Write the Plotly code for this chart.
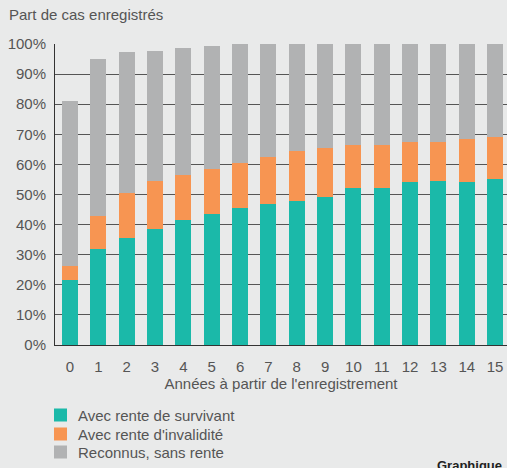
import plotly.graph_objects as go

years = [str(i) for i in range(16)]
survivant = [21.5, 31.9, 35.4, 38.7, 41.4, 43.4, 45.4, 46.7, 47.7, 49.1, 52.0, 52.3, 54.3, 54.6, 54.3, 55.3]
invalidite_top = [26.1, 42.7, 50.4, 54.4, 56.6, 58.4, 60.6, 62.6, 64.6, 65.3, 66.3, 66.3, 67.3, 67.6, 68.4, 69.0]
total_top = [80.9, 95.1, 97.5, 97.8, 98.8, 99.4, 100, 100, 100, 100, 100, 100, 100, 100, 100, 100]

invalidite = [round(b - a, 1) for a, b in zip(survivant, invalidite_top)]
sans_rente = [round(c - b, 1) for b, c in zip(invalidite_top, total_top)]

y_ticks = [0, 10, 20, 30, 40, 50, 60, 70, 80, 90, 100]
y_labels = [f"{v}%" for v in y_ticks]

names = ["Avec rente de survivant", "Avec rente d'invalidité", "Reconnus, sans rente"]
colors = ["#1bb9a9", "#f79552", "#b1b2b3"]
BG = "#e9eaea"
TXT = "#555555"
FONT = "Liberation Sans, Arial, sans-serif"

W, H = 507, 468
L, R, T, B = 55, 0, 44, 123
PW, PH = W - L - R, H - T - B


def px(xp):
    return (xp - L) / PW


def py(yp):
    return 1 - (yp - T) / PH


fig = go.Figure()
x = list(range(16))
for vals, nm, col in zip([survivant, invalidite, sans_rente], names, colors):
    fig.add_trace(go.Bar(x=x, y=vals, name=nm, marker=dict(color=col, line=dict(width=0)),
                         showlegend=False, hoverinfo="skip"))

fig.update_layout(
    width=W, height=H,
    margin=dict(l=L, r=R, t=T, b=B, pad=0),
    paper_bgcolor=BG, plot_bgcolor=BG,
    barmode="stack", bargap=0.435,
    font=dict(family=FONT, size=15, color=TXT),
    showlegend=False,
    xaxis=dict(range=[-0.53, 15.42], tickmode="array", tickvals=x, ticktext=years,
               showgrid=False, zeroline=False, showline=True, linecolor="#333333", linewidth=1,
               ticks="", tickfont=dict(size=15, color=TXT), ticklabelstandoff=8,
               title=dict(text="Années à partir de l'enregistrement", font=dict(size=15, color=TXT), standoff=4)),
    yaxis=dict(range=[0, 100], tickmode="array", tickvals=y_ticks, ticktext=y_labels,
               showgrid=True, gridcolor="#555555", gridwidth=1, zeroline=False,
               showline=True, linecolor="#333333", linewidth=1, ticks="",
               tickfont=dict(size=15, color=TXT), ticklabelstandoff=5),
)

fig.add_annotation(text="Part de cas enregistrés", xref="paper", yref="paper",
                   x=px(7), y=py(14), xanchor="left", yanchor="middle",
                   showarrow=False, font=dict(size=15, color=TXT))

leg_y = [415, 434, 452]
for nm, col, yy in zip(names, colors, leg_y):
    fig.add_shape(type="rect", xref="paper", yref="paper",
                  x0=px(54), x1=px(67), y0=py(yy + 6.5), y1=py(yy - 6.5),
                  fillcolor=col, line=dict(width=0))
    fig.add_annotation(text=nm, xref="paper", yref="paper",
                       x=px(76), y=py(yy), xanchor="left", yanchor="middle", showarrow=False,
                       font=dict(size=15, color=TXT))

fig.add_annotation(text="<b>Graphique</b>", xref="paper", yref="paper",
                   x=px(435), y=py(465), xanchor="left", yanchor="middle", showarrow=False,
                   font=dict(size=13, color="#222222"))

fig.write_html("out.html", config={"displayModeBar": False},
               post_script="document.body.style.margin='0';document.body.style.overflow='hidden';")
